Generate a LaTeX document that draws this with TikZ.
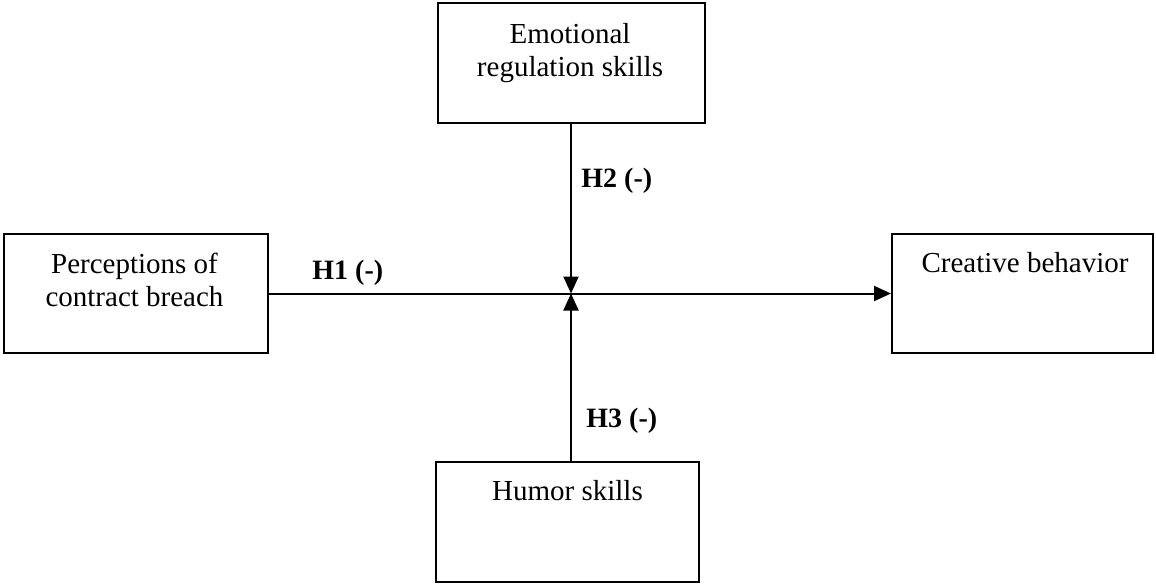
\documentclass[tikz,border=0pt]{standalone}
\usepackage{fontspec}
\setmainfont{Liberation Serif}
\usetikzlibrary{arrows.meta,calc}
\begin{document}
\begin{tikzpicture}[x=0.5pt,y=-0.5pt,
  boxnode/.style={draw,line width=1pt,inner sep=0pt,rectangle},
  txt/.style={inner sep=0pt,anchor=base,align=center,font=\fontsize{14.5pt}{16.5pt}\selectfont},
  hyp/.style={inner sep=0pt,anchor=base west,font=\fontsize{14pt}{16pt}\selectfont\bfseries},
  conn/.style={line width=1pt,-{Triangle[length=8.5pt,width=7.5pt]}}]
\useasboundingbox (0,0) rectangle (1156,585);
\node[boxnode,minimum width=133.5pt,minimum height=60pt] (emo) at (571.5,63) {};
\node[boxnode,minimum width=132pt,minimum height=59.5pt] (per) at (136,293.5) {};
\node[boxnode,minimum width=130.5pt,minimum height=59.5pt] (cre) at (1022.5,293.5) {};
\node[boxnode,minimum width=131.5pt,minimum height=60pt] (hum) at (567.5,522) {};
\node[txt] (emot) at (570,76) {Emotional\\regulation skills};
\node[txt] (pert) at (134.5,306) {Perceptions of\\contract breach};
\node[txt] (cret) at (1025,272) {Creative behavior};
\node[txt] (humt) at (567.5,500) {Humor skills};
\coordinate (mid) at (571,293.5);
\draw[conn] (per.east) -- (cre.west);
\draw[conn] (emo.south -| mid) -- (mid);
\draw[conn] (hum.north -| mid) -- (mid);
\node[hyp] (h1) at (312,279) {H1 (-)};
\node[hyp] (h2) at (581,187) {H2 (-)};
\node[hyp] (h3) at (586,427) {H3 (-)};
\end{tikzpicture}
\end{document}
